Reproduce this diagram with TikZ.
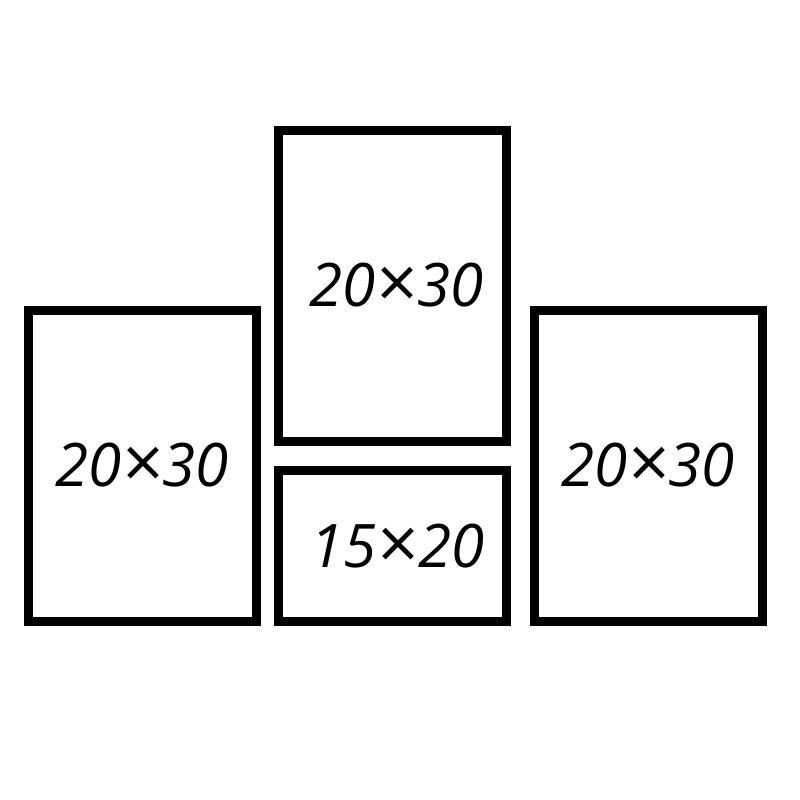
\documentclass[tikz,border=0pt]{standalone}
\usepackage{fontspec}
\setmainfont{Open Sans}
\usepackage{tikz}
\newcommand{\sizesep}{\raisebox{-2pt}{\fontsize{72}{72}\selectfont×}}

\begin{document}
\begin{tikzpicture}[x=1pt,y=-1pt,
    frame/.style={draw=black,line width=9pt,inner sep=0pt,minimum width=228pt,font=\itshape\fontsize{60}{60}\selectfont}]
    \useasboundingbox (0,0) rectangle (800,800);

    % Left frame
    \node[frame,minimum height=311pt] (left) at (142.3,466.1) {\raisebox{-4pt}{20\sizesep30}};

    % Middle top frame
    \node[frame,minimum height=311pt] (top) at (392.5,286) {\hspace{8pt}20\sizesep30};

    % Middle bottom frame
    \node[frame,minimum height=150.7pt] (bottom) at (392.5,546.3) {\hspace{10pt}15\sizesep20};

    % Right frame
    \node[frame,minimum height=311pt] (right) at (648,466.1) {20\sizesep30};
\end{tikzpicture}
\end{document}
